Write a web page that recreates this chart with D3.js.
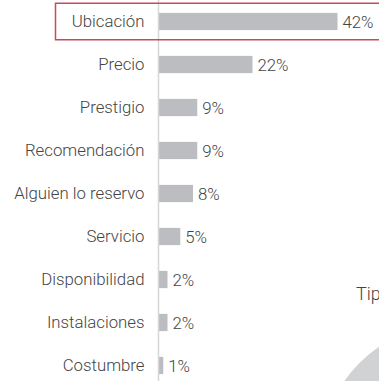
<!DOCTYPE html>
<html>
<head>
<meta charset="utf-8">
<script src="https://cdn.jsdelivr.net/npm/d3@7/dist/d3.min.js"></script>
<style>
  html, body { margin: 0; padding: 0; background: #fff; overflow: hidden; }
  svg { display: block; }
  text { font-family: Roboto, "Liberation Sans", Arial, sans-serif; font-weight: 300; }
</style>
</head>
<body>
<svg id="chart" width="379" height="381"></svg>
<script>
// Motivos de elección del hotel (% de respuestas)
const categories = ["Ubicación", "Precio", "Prestigio", "Recomendación", "Alguien lo reservo",
                    "Servicio", "Disponibilidad", "Instalaciones", "Costumbre"];
const values = [42, 22, 9, 9, 8, 5, 2, 2, 1];
const highlighted = "Ubicación";
const nextTitle = "Tip";
const nextSlices = [100];

const W = 379, H = 381;
const FONT = 16.8;
const svg = d3.select("#chart");

const x = d3.scaleLinear().domain([0, 100]).range([159, 584]);
const y = d3.scaleBand().domain(categories).range([0, 387])
  .paddingInner(0.6).paddingOuter(0.3);

// partially visible pie of the neighbouring chart
const pieG = svg.append("g").attr("transform", "translate(453,456)");
const arcs = d3.pie().sort(null)(nextSlices);
pieG.selectAll("path").data(arcs).join("path")
  .attr("d", d3.arc().innerRadius(0).outerRadius(132))
  .attr("fill", "#d1d2d4");

svg.append("text")
  .attr("x", 356).attr("y", 300)
  .attr("font-size", 18).attr("fill", "#444")
  .text(nextTitle);

// bars
svg.selectAll("rect.bar").data(values).join("rect")
  .attr("class", "bar")
  .attr("x", x(0))
  .attr("y", (d, i) => y(categories[i]))
  .attr("width", d => x(d) - x(0))
  .attr("height", y.bandwidth())
  .attr("fill", "#bcbdc0");

// value labels
svg.selectAll("text.val").data(values).join("text")
  .attr("class", "val")
  .attr("x", d => x(d) + 5)
  .attr("y", (d, i) => y(categories[i]) + y.bandwidth() / 2)
  .attr("dominant-baseline", "central")
  .attr("font-size", FONT).attr("fill", "#444")
  .text(d => d + "%");

// category axis
const axis = d3.axisLeft(y).tickSize(0).tickPadding(14);
const ax = svg.append("g").attr("transform", "translate(158.5,0)").call(axis);
ax.select(".domain").remove();
ax.selectAll("text").attr("font-size", FONT).attr("fill", "#444")
  .attr("font-family", null);
svg.append("line")
  .attr("x1", 158.5).attr("x2", 158.5).attr("y1", 0).attr("y2", H)
  .attr("stroke", "#d6d6d6").attr("stroke-width", 1.5);

// highlight frame around the top reason
svg.append("rect")
  .attr("x", 55.5).attr("y", y(highlighted) + y.bandwidth() / 2 - 18.25)
  .attr("width", 340).attr("height", 36.5)
  .attr("fill", "none").attr("stroke", "#c94a5a").attr("stroke-width", 1.5);
</script>
</body>
</html>
